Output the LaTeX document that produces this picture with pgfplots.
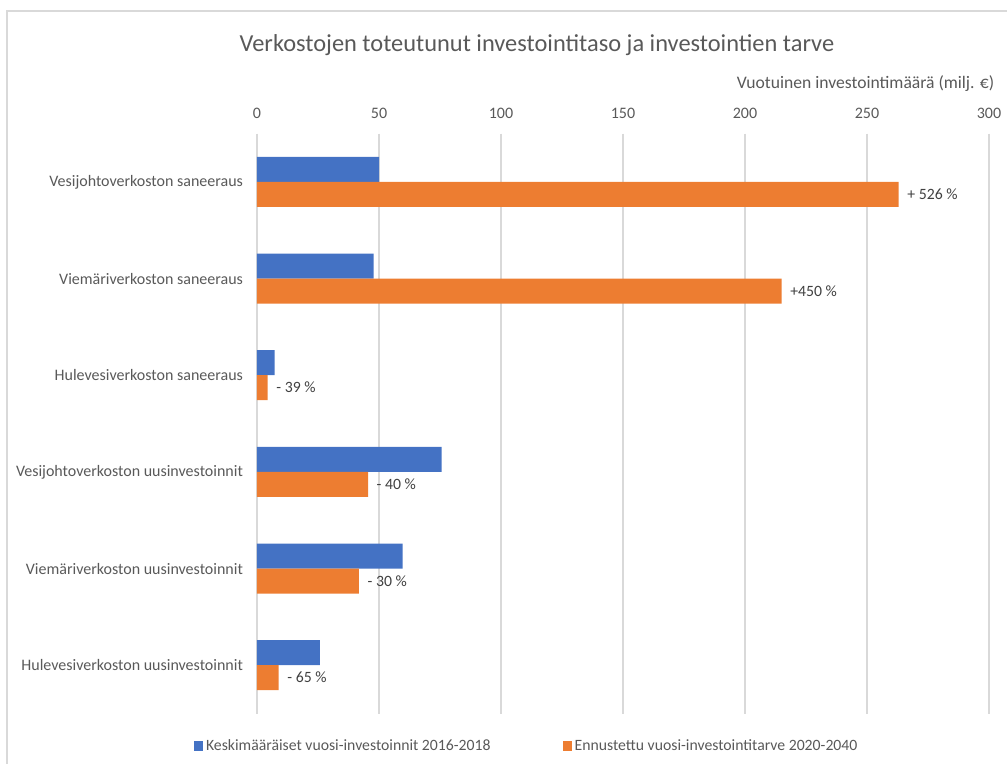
\documentclass[border=0pt]{standalone}
\usepackage{pgfplots}
\pgfplotsset{compat=1.18}
\usepackage{fontspec}
\setmainfont{Carlito}
\definecolor{cblue}{HTML}{4472C4}
\definecolor{corange}{HTML}{ED7D31}
\definecolor{ctext}{HTML}{595959}
\definecolor{cgrid}{HTML}{D9D9D9}
\begin{document}
\begin{tikzpicture}[x=0.75pt,y=-0.75pt]
\useasboundingbox (0,0) rectangle (1007,764);
\draw[cgrid,line width=1pt] (7,764) -- (7,11) -- (1007,11);
\node[font=\fontsize{18.3}{22}\selectfont,text=ctext] at (537,45) {Verkostojen toteutunut investointitaso ja investointien tarve};
\node[font=\fontsize{13.2}{15}\selectfont,text=ctext,anchor=east] at (999,84) {Vuotuinen investointimäärä (milj. €)};
\begin{axis}[
  at={(257pt*0.75,-713.5pt*0.75)}, anchor=south west,
  scale only axis, width=549pt, height=435pt,
  xbar, bar width=18.75pt,
  xmin=0, xmax=300, xtick={0,50,...,300},
  ymin=-0.5, ymax=5.5, y dir=reverse,
  ytick={0,1,2,3,4,5},
  yticklabels={Vesijohtoverkoston saneeraus,Viemäriverkoston saneeraus,Hulevesiverkoston saneeraus,Vesijohtoverkoston uusinvestoinnit,Viemäriverkoston uusinvestoinnit,Hulevesiverkoston uusinvestoinnit},
  xticklabel pos=top,
  axis line style={draw=none},
  major tick length=0pt,
  xmajorgrids, grid style={cgrid, line width=0.8pt},
  /pgf/number format/assume math mode=true,
  tick label style={font=\fontsize{12}{14}\selectfont, text=ctext},
  xticklabel style={yshift=8pt},
  yticklabel style={xshift=-7pt},
  legend style={at={(axis description cs:0.369,-0.056)}, anchor=center, draw=none, fill=none,
    legend columns=2, font=\fontsize{11.8}{14}\selectfont, text=ctext,
    /tikz/every even column/.append style={column sep=52pt}},
  legend image code/.code={\fill[#1] (0pt,-3.5pt) rectangle (7pt,3.5pt);},
]
\addplot[fill=cblue, draw=none, bar shift=9.375pt] coordinates {(50,0) (47.8,1) (7.2,2) (75.7,3) (59.7,4) (25.8,5)};
\addplot[fill=corange, draw=none, bar shift=-9.375pt,
  point meta=explicit symbolic,
  nodes near coords, nodes near coords align={horizontal},
  every node near coord/.append style={font=\fontsize{11.8}{14}\selectfont, text=black!75, anchor=west, xshift=3pt}]
  coordinates {(263,0) [+ 526 \%] (215,1) [+450 \%] (4.4,2) [- 39 \%] (45.5,3) [- 40 \%] (41.8,4) [- 30 \%] (8.9,5) [- 65 \%]};
\legend{Keskimääräiset vuosi-investoinnit 2016-2018, Ennustettu vuosi-investointitarve 2020-2040}
\end{axis}
\end{tikzpicture}
\end{document}
